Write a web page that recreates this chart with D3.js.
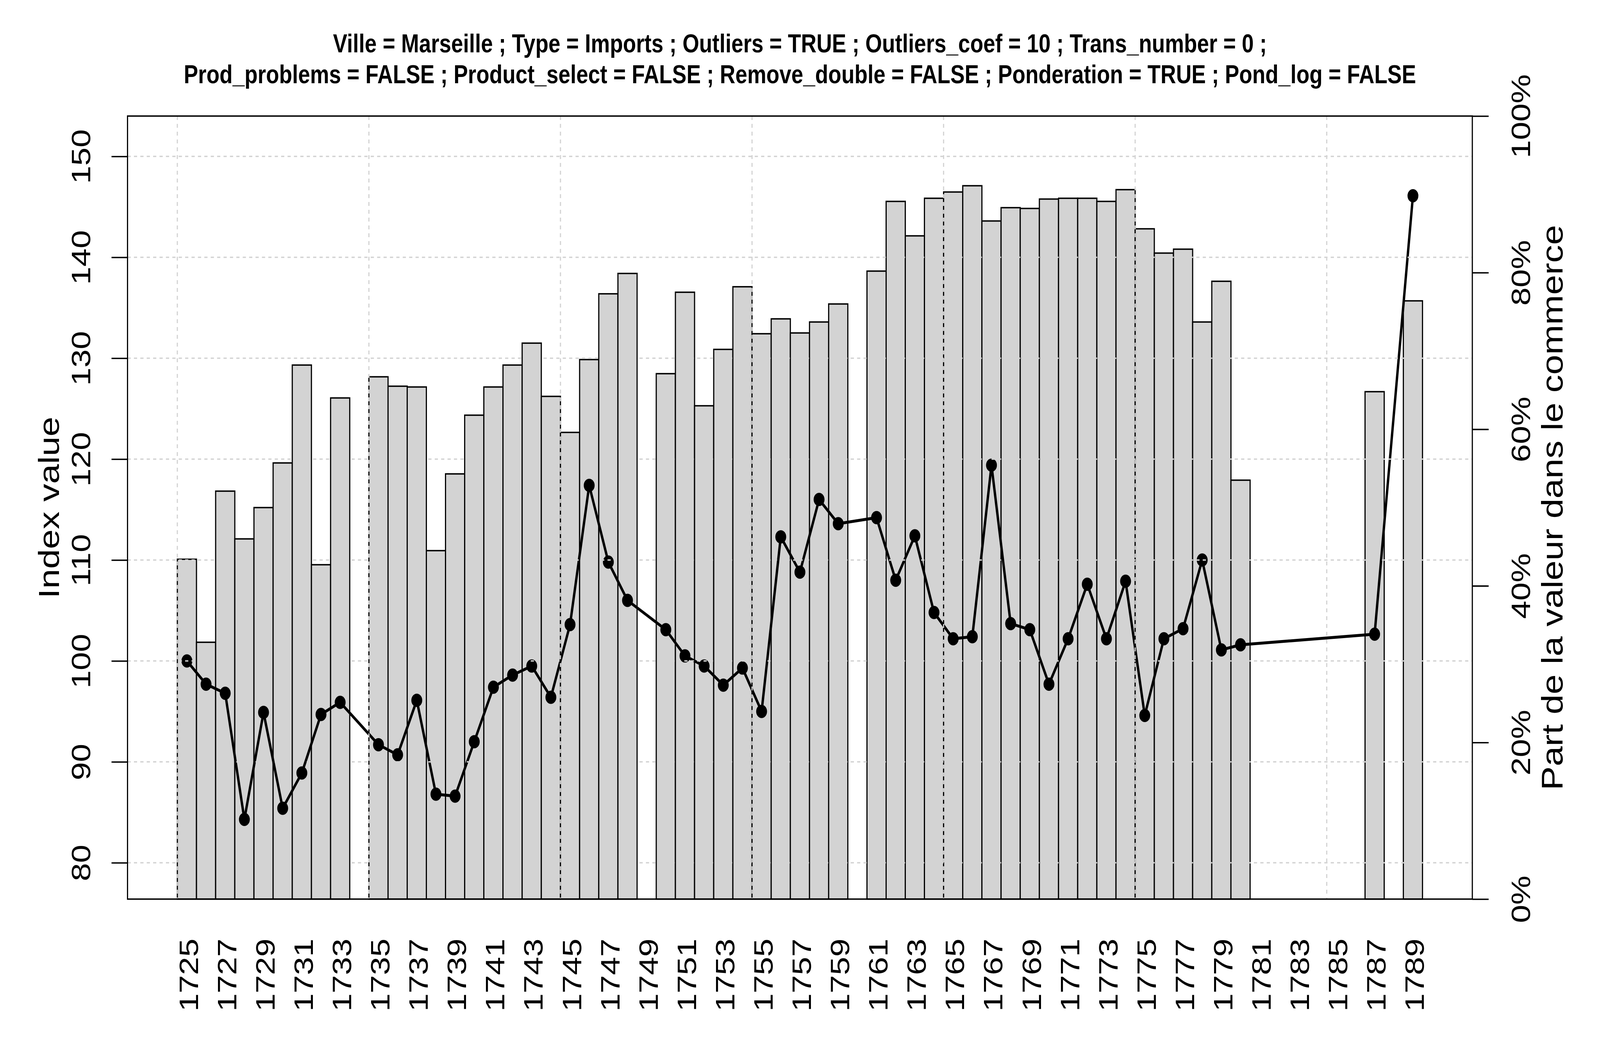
<!DOCTYPE html>
<html>
<head>
<meta charset="utf-8">
<script src="https://cdn.jsdelivr.net/npm/d3@7"></script>
<style>
  html, body { margin: 0; padding: 0; background: #ffffff; overflow: hidden; }
  svg { display: block; }
</style>
</head>
<body>
<div id="chart"></div>
<script>
// ---------------- DATA ----------------
const years = [1725,1726,1727,1728,1729,1730,1731,1732,1733,1734,
               1735,1736,1737,1738,1739,1740,1741,1742,1743,1744,
               1745,1746,1747,1748,1749,1750,1751,1752,1753,1754,
               1755,1756,1757,1758,1759,1760,1761,1762,1763,1764,
               1765,1766,1767,1768,1769,1770,1771,1772,1773,1774,
               1775,1776,1777,1778,1779,1780,1781,1782,1783,1784,
               1785,1786,1787,1788,1789];

// Bars: "Part de la valeur dans le commerce" (right axis, share 0..1)
const shareValues = [0.434,0.328,0.521,0.460,0.500,0.557,0.682,0.427,0.640,null,
                     0.667,0.655,0.654,0.445,0.543,0.618,0.654,0.682,0.710,0.642,
                     0.596,0.689,0.773,0.799,null,0.671,0.775,0.630,0.702,0.782,
                     0.722,0.741,0.723,0.737,0.760,null,0.802,0.891,0.847,0.895,
                     0.903,0.911,0.866,0.883,0.882,0.894,0.895,0.895,0.891,0.906,
                     0.856,0.825,0.830,0.737,0.789,0.535,null,null,null,null,
                     null,null,0.648,null,0.764];

// Line: "Index value" (left axis)
const indexValues = [100.0,97.7,96.8,84.3,94.9,85.4,88.9,94.7,95.9,null,
                     91.7,90.7,96.1,86.8,86.6,92.0,97.4,98.6,99.5,96.4,
                     103.6,117.4,109.8,106.0,null,103.1,100.5,99.5,97.6,99.3,
                     95.0,112.3,108.8,116.0,113.6,null,114.2,108.0,112.4,104.8,
                     102.2,102.4,119.4,103.7,103.1,97.7,102.2,107.6,102.2,107.9,
                     94.6,102.2,103.2,110.0,101.1,101.6,null,null,null,null,
                     null,null,102.65,null,146.1];

const leftTicks = [80,90,100,110,120,130,140,150];
const rightTicks = [0,0.2,0.4,0.6,0.8,1.0];
const rightTickLabels = ["0%","20%","40%","60%","80%","100%"];
const yearLabels = ["1725","1727","1729","1731","1733","1735","1737","1739","1741","1743",
                    "1745","1747","1749","1751","1753","1755","1757","1759","1761","1763",
                    "1765","1767","1769","1771","1773","1775","1777","1779","1781","1783",
                    "1785","1787","1789"];
const gridYearLabels = ["1725","1735","1745","1755","1765","1775","1785"];

const titleLine1 = "Ville = Marseille ; Type = Imports ; Outliers = TRUE ; Outliers_coef = 10 ; Trans_number = 0 ;";
const titleLine2 = "Prod_problems = FALSE ; Product_select = FALSE ; Remove_double = FALSE ; Ponderation = TRUE ; Pond_log = FALSE";
const leftTitle = "Index value";
const rightTitle = "Part de la valeur dans le commerce";

// ---------------- LAYOUT ----------------
const W = 5000, H = 2700;
const P = { left: 398.5, right: 4601, top: 297, bottom: 2301 };
const FONT = "'Liberation Sans', Arial, Helvetica, sans-serif";
const LW = 3.6;

const vw = window.innerWidth || W, vh = window.innerHeight || H;

const svg = d3.select("#chart").append("svg")
  .attr("width", vw).attr("height", vh)
  .attr("viewBox", `0 0 ${W} ${H}`)
  .attr("preserveAspectRatio", "none")
  .style("background", "#ffffff");

svg.append("rect").attr("width", W).attr("height", H).attr("fill", "#ffffff");

// scales
const x = d3.scaleLinear().domain([-2.6, years.length + 2.6]).range([P.left, P.right]);
const yL = d3.scaleLinear().domain([76.4, 154.0]).range([P.bottom, P.top]);
const yR = d3.scaleLinear().domain([0, 1]).range([P.bottom, P.top]);

const idxOf = lab => years.indexOf(+lab);

// ---------------- BARS ----------------
const barData = years.map((yr, i) => ({ i, yr, v: shareValues[i] })).filter(d => d.v !== null);
svg.append("g").selectAll("rect").data(barData).join("rect")
  .attr("x", d => x(d.i))
  .attr("width", d => x(d.i + 1) - x(d.i))
  .attr("y", d => yR(d.v))
  .attr("height", d => yR(0) - yR(d.v))
  .attr("fill", "#d3d3d3")
  .attr("stroke", "#000")
  .attr("stroke-width", LW);

// ---------------- LINE ----------------
const linePts = years.map((yr, i) => ({ i, v: indexValues[i] })).filter(d => d.v !== null);
const lineGen = d3.line().x(d => x(d.i + 0.5)).y(d => yL(d.v));
svg.append("path").datum(linePts)
  .attr("d", lineGen)
  .attr("fill", "none")
  .attr("stroke", "#000")
  .attr("stroke-width", 7.5)
  .attr("stroke-linejoin", "round");
svg.append("g").selectAll("circle").data(linePts).join("circle")
  .attr("cx", d => x(d.i + 0.5))
  .attr("cy", d => yL(d.v))
  .attr("r", 17)
  .attr("fill", "#000");

// ---------------- GRID (drawn on top, like R's grid()) ----------------
const grid = svg.append("g").attr("stroke", "#d3d3d3").attr("stroke-width", LW)
  .attr("stroke-dasharray", "10,10").attr("fill", "none");
grid.selectAll("line.h").data(leftTicks).join("line").attr("class", "h")
  .attr("x1", P.left).attr("x2", P.right)
  .attr("y1", d => yL(d)).attr("y2", d => yL(d));
grid.selectAll("line.v").data(gridYearLabels).join("line").attr("class", "v")
  .attr("x1", d => x(idxOf(d))).attr("x2", d => x(idxOf(d)))
  .attr("y1", P.top).attr("y2", P.bottom);

// ---------------- AXES ----------------
function styleAxis(g) {
  g.attr("font-family", FONT).attr("font-size", 84);
  g.select(".domain").remove();
  g.selectAll(".tick line").attr("stroke", "#000").attr("stroke-width", LW);
  g.selectAll(".tick text").attr("fill", "#000");
}

// left axis
const gL = svg.append("g").attr("transform", `translate(${P.left},0)`)
  .call(d3.axisLeft(yL).tickValues(leftTicks).tickSize(50).tickFormat(d3.format("d")));
styleAxis(gL);
gL.selectAll(".tick text")
  .attr("x", 0).attr("y", 0).attr("dy", 0)
  .attr("text-anchor", "middle")
  .attr("transform", "translate(-116,0) rotate(-90)");

// right axis
const gR = svg.append("g").attr("transform", `translate(${P.right},0)`)
  .call(d3.axisRight(yR).tickValues(rightTicks).tickSize(51)
    .tickFormat((d, i) => rightTickLabels[i]));
styleAxis(gR);
gR.selectAll(".tick text")
  .attr("x", 0).attr("y", 0).attr("dy", 0)
  .attr("text-anchor", "middle")
  .attr("transform", "translate(181,0) rotate(-90)");

// bottom axis (labels only)
const gB = svg.append("g").attr("transform", `translate(0,${P.bottom})`)
  .call(d3.axisBottom(x).tickValues(yearLabels.map(l => idxOf(l) + 0.5)).tickSize(0)
    .tickFormat((d, i) => yearLabels[i]));
styleAxis(gB);
gB.selectAll(".tick line").remove();
gB.selectAll(".tick text")
  .attr("x", 0).attr("y", 0).attr("dy", 0)
  .attr("text-anchor", "end")
  .attr("transform", "translate(34,101) rotate(-90)");

// box
svg.append("rect")
  .attr("x", P.left).attr("y", P.top)
  .attr("width", P.right - P.left).attr("height", P.bottom - P.top)
  .attr("fill", "none").attr("stroke", "#000").attr("stroke-width", LW);

// ---------------- TITLES ----------------
const cx = (P.left + P.right) / 2;
svg.append("text").attr("x", cx).attr("y", 134)
  .attr("text-anchor", "middle").attr("font-family", FONT).attr("font-weight", "bold")
  .attr("font-size", 67).text(titleLine1);
svg.append("text").attr("x", cx).attr("y", 213.5)
  .attr("text-anchor", "middle").attr("font-family", FONT).attr("font-weight", "bold")
  .attr("font-size", 67).text(titleLine2);

svg.append("text")
  .attr("transform", `translate(184,${(P.top + P.bottom) / 2}) rotate(-90)`)
  .attr("text-anchor", "middle").attr("font-family", FONT).attr("font-size", 91)
  .text(leftTitle);
svg.append("text")
  .attr("transform", `translate(4883,${(P.top + P.bottom) / 2}) rotate(-90)`)
  .attr("text-anchor", "middle").attr("font-family", FONT).attr("font-size", 92)
  .text(rightTitle);
</script>
</body>
</html>
